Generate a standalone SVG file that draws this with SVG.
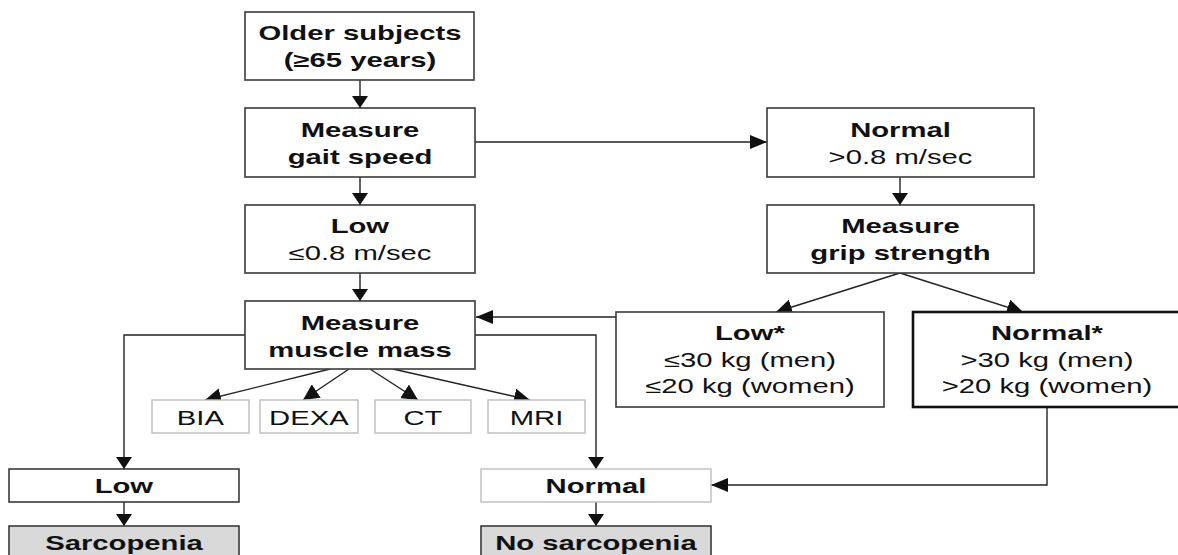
<svg xmlns="http://www.w3.org/2000/svg" width="1178" height="555" viewBox="0 0 1178 555">
<style>
.t{font-family:"Liberation Sans",Arial,Helvetica,sans-serif;font-size:19.5px;text-anchor:middle;fill:#111;transform-box:fill-box;transform-origin:center;transform:scaleX(1.5)}
.b{font-weight:bold}
.box{fill:#fff;stroke:#3a3a3a;stroke-width:1.6}
.thick{fill:#fff;stroke:#111;stroke-width:2.6}
.light{fill:#fff;stroke:#bdbdbd;stroke-width:1.4}
.grey{fill:#d9d9d9;stroke:#3a3a3a;stroke-width:1.6}
.c{fill:none;stroke:#222;stroke-width:1.4}
.v{marker-end:url(#av)}
.h{marker-end:url(#ah)}
.d{marker-end:url(#ad)}
</style>
<defs>
<marker id="av" markerUnits="userSpaceOnUse" markerWidth="16" markerHeight="16" viewBox="0 0 12 16" refX="12" refY="8" orient="auto"><path d="M0,0 L12,8 L0,16 z" fill="#111"/></marker>
<marker id="ah" markerUnits="userSpaceOnUse" markerWidth="17" markerHeight="14" viewBox="0 0 16 13" refX="16" refY="6.5" orient="auto"><path d="M0,0 L16,6.5 L0,13 z" fill="#111"/></marker>
<marker id="ad" markerUnits="userSpaceOnUse" markerWidth="16" markerHeight="16" viewBox="0 0 14 14" refX="14" refY="7" orient="auto"><path d="M0,0 L14,7 L0,14 z" fill="#111"/></marker>
</defs>
<g id="connectors">
<line class="c v" x1="360" y1="80" x2="360" y2="108"/>
<line class="c v" x1="360" y1="177" x2="360" y2="205"/>
<line class="c v" x1="360" y1="273" x2="360" y2="301"/>
<line class="c h" x1="475" y1="142" x2="767" y2="142"/>
<line class="c v" x1="900" y1="177" x2="900" y2="205"/>
<line class="c d" x1="900" y1="273" x2="776" y2="312"/>
<line class="c d" x1="900" y1="273" x2="1023" y2="312"/>
<line class="c h" x1="616" y1="317" x2="476" y2="317"/>
<path class="c v" d="M245,335 H124 V469"/>
<path class="c v" d="M475,335 H596 V469"/>
<path class="c h" d="M1047,407 V485 H711"/>
<line class="c d" x1="330" y1="369" x2="205" y2="400"/>
<line class="c d" x1="349" y1="369" x2="303" y2="400"/>
<line class="c d" x1="370" y1="369" x2="418" y2="400"/>
<line class="c d" x1="393" y1="369" x2="530" y2="400"/>
<line class="c v" x1="124" y1="502" x2="124" y2="526"/>
<line class="c v" x1="596" y1="502" x2="596" y2="526"/>
</g>
<g id="older">
<rect class="box" x="245" y="12" width="229" height="68"/>
<text class="t b" x="360" y="40">Older subjects</text>
<text class="t b" x="360" y="67">(≥65 years)</text>
</g>
<g id="gait">
<rect class="box" x="245" y="108" width="230" height="69"/>
<text class="t b" x="360" y="137">Measure</text>
<text class="t b" x="360" y="164">gait speed</text>
</g>
<g id="lowgait">
<rect class="box" x="245" y="205" width="230" height="68"/>
<text class="t b" x="360" y="233">Low</text>
<text class="t" x="360" y="260">≤0.8 m/sec</text>
</g>
<g id="muscle">
<rect class="box" x="245" y="301" width="230" height="68"/>
<text class="t b" x="360" y="330">Measure</text>
<text class="t b" x="360" y="357">muscle mass</text>
</g>
<g id="normalgait">
<rect class="box" x="767" y="108" width="267" height="69"/>
<text class="t b" x="900.5" y="137">Normal</text>
<text class="t" x="900.5" y="164">&gt;0.8 m/sec</text>
</g>
<g id="grip">
<rect class="box" x="767" y="205" width="267" height="68"/>
<text class="t b" x="900.5" y="233">Measure</text>
<text class="t b" x="900.5" y="260">grip strength</text>
</g>
<g id="lowgrip">
<rect class="box" x="616" y="312" width="268" height="95"/>
<text class="t b" x="750" y="340">Low*</text>
<text class="t" x="750" y="367">≤30 kg (men)</text>
<text class="t" x="750" y="393">≤20 kg (women)</text>
</g>
<g id="normalgrip">
<rect class="thick" x="913" y="312" width="270" height="95"/>
<text class="t b" x="1047" y="340">Normal*</text>
<text class="t" x="1047" y="367">&gt;30 kg (men)</text>
<text class="t" x="1047" y="393">&gt;20 kg (women)</text>
</g>
<g id="bia">
<rect class="light" x="152" y="400" width="97" height="33"/>
<text class="t" x="200.5" y="425">BIA</text>
</g>
<g id="dexa">
<rect class="light" x="260" y="400" width="98" height="33"/>
<text class="t" x="309" y="425">DEXA</text>
</g>
<g id="ct">
<rect class="light" x="375" y="400" width="96" height="33"/>
<text class="t" x="423" y="425">CT</text>
</g>
<g id="mri">
<rect class="light" x="488" y="400" width="97" height="33"/>
<text class="t" x="536.5" y="425">MRI</text>
</g>
<g id="lowmass">
<rect class="box" x="9" y="469" width="230" height="33"/>
<text class="t b" x="124" y="493">Low</text>
</g>
<g id="normalmass">
<rect class="light" x="481" y="469" width="230" height="33"/>
<text class="t b" x="596" y="493">Normal</text>
</g>
<g id="sarcopenia">
<rect class="grey" x="9" y="526" width="230" height="40"/>
<text class="t b" x="124" y="550">Sarcopenia</text>
</g>
<g id="nosarcopenia">
<rect class="grey" x="481" y="526" width="230" height="40"/>
<text class="t b" x="596" y="550">No sarcopenia</text>
</g>
</svg>
